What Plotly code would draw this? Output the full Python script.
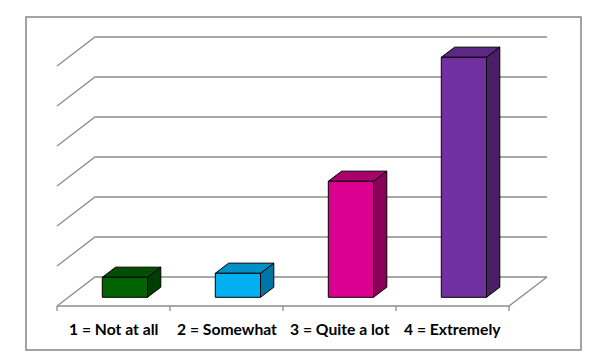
import plotly.graph_objects as go

# ---- data ----
categories = ["1 = Not at all", "2 = Somewhat", "3 = Quite a lot", "4 = Extremely"]
values = [5, 6, 29, 60]
gridlines = [0, 10, 20, 30, 40, 50, 60]
front_colors = ["#006400", "#00b0f0", "#dc0090", "#7030a0"]
top_colors = ["#004f00", "#0090c8", "#a8006c", "#5c2884"]
side_colors = ["#003d00", "#0074a4", "#8a0058", "#4a1f68"]

# ---- geometry (oblique 3D projection in axis units) ----
PX_X = 113.0   # pixels per category
PX_V = 4.0     # pixels per value unit
X0_PX, V0_PX = 57.0, 306.0
DX = 38.0 / PX_X     # depth offset in x units
DV = 29.0 / PX_V     # depth offset in value units
D_FRONT, D_BACK = 0.30, 0.65
BAR_W = 0.40

def P(x, v, d):
    return x + d * DX, v + d * DV

fig = go.Figure()

def line(pts, color="#8c8c8c", width=1.3):
    xs, ys = zip(*pts)
    fig.add_trace(go.Scatter(x=list(xs), y=list(ys), mode="lines",
                             line=dict(color=color, width=width),
                             hoverinfo="skip", showlegend=False))

def poly(pts, fill):
    pts = pts + [pts[0]]
    xs, ys = zip(*pts)
    fig.add_trace(go.Scatter(x=list(xs), y=list(ys), mode="lines", fill="toself",
                             fillcolor=fill, line=dict(color="#000000", width=1),
                             hoverinfo="skip", showlegend=False))

n = len(categories)
# walls gridlines
for g in gridlines:
    line([P(0, g, 0), P(0, g, 1), P(n, g, 1)])
# floor
line([P(0, 0, 0), P(n, 0, 0), P(n, 0, 1)])
# ticks
for i in range(n + 1):
    line([P(i, 0, 0), P(i, -1.25, 0)])

# bars
for i, (v, fc, tc, sc) in enumerate(zip(values, front_colors, top_colors, side_colors)):
    xl = i + 0.5 - BAR_W / 2
    xr = i + 0.5 + BAR_W / 2
    # side (right)
    poly([P(xr, 0, D_FRONT), P(xr, 0, D_BACK), P(xr, v, D_BACK), P(xr, v, D_FRONT)], sc)
    # top
    poly([P(xl, v, D_FRONT), P(xr, v, D_FRONT), P(xr, v, D_BACK), P(xl, v, D_BACK)], tc)
    # front
    poly([P(xl, 0, D_FRONT), P(xr, 0, D_FRONT), P(xr, v, D_FRONT), P(xl, v, D_FRONT)], fc)

# category labels
label_v = (V0_PX - 328.5) / PX_V
for i, c in enumerate(categories):
    fig.add_annotation(x=i + 0.5, y=label_v, text="<b>" + c + "</b>", showarrow=False,
                       xanchor="center", yanchor="middle",
                       font=dict(family="Lato", size=15.7, color="#000000"))

W, H = 615, 357
fig.add_shape(type="rect", xref="paper", yref="paper",
              x0=26 / W, x1=581 / W, y0=1 - 350 / H, y1=1 - 17 / H,
              line=dict(color="#868686", width=1.5), fillcolor="rgba(0,0,0,0)")

fig.update_layout(
    width=W, height=H, margin=dict(l=0, r=0, t=0, b=0),
    paper_bgcolor="white", plot_bgcolor="white",
    xaxis=dict(range=[-X0_PX / PX_X, (W - X0_PX) / PX_X], visible=False, fixedrange=True),
    yaxis=dict(range=[(V0_PX - H) / PX_V, V0_PX / PX_V], visible=False, fixedrange=True),
    showlegend=False,
)
fig.write_html("out.html", config={"displayModeBar": False},
               post_script="document.body.style.margin='0';document.body.style.overflow='hidden';")
